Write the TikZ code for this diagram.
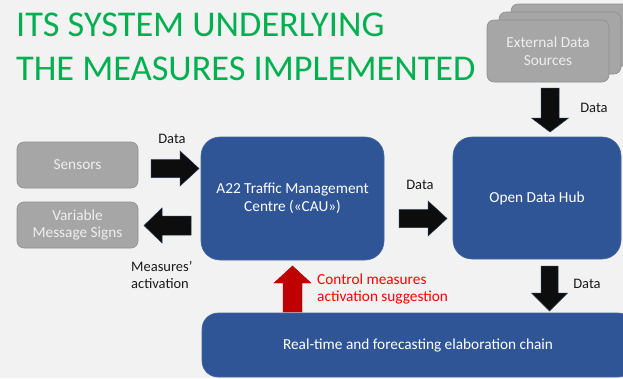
\documentclass[tikz,border=0pt]{standalone}
\usepackage{fontspec}
\setmainfont{Carlito}
\definecolor{bgcol}{HTML}{F2F2F2}
\definecolor{titlegreen}{HTML}{00B050}
\definecolor{hubblue}{HTML}{2F5597}
\definecolor{hubedge}{HTML}{41679F}
\definecolor{boxgray}{HTML}{A6A6A6}
\definecolor{boxedge}{HTML}{8F8F8F}
\definecolor{boxtext}{HTML}{EEEEEE}
\definecolor{arrowblack}{HTML}{0D0D0D}
\definecolor{arrowedge}{HTML}{24324F}
\definecolor{arrowred}{HTML}{C00000}
\definecolor{textred}{HTML}{FF0000}
\definecolor{labelblack}{HTML}{1A1A1A}

\tikzset{
  graybox/.style={draw=boxedge, line width=0.6pt, fill=boxgray, rounded corners=7pt,
    text=boxtext, align=center, inner sep=0pt,
    font=\fontsize{15.3}{17.5}\selectfont},
  bluebox/.style={draw=hubedge, line width=0.6pt, fill=hubblue, rounded corners=19pt,
    text=white, align=center, inner sep=0pt,
    font=\fontsize{15.3}{18}\selectfont},
  lbl/.style={text=labelblack, inner sep=0pt, font=\fontsize{14.5}{17}\selectfont},
  redlbl/.style={text=textred, inner sep=0pt, align=left, font=\fontsize{15.3}{17}\selectfont},
  blockblack/.style={fill=arrowblack, draw=arrowedge, line width=0.5pt},
  blockred/.style={fill=arrowred, draw=arrowred!80!black, line width=0.4pt},
  % block arrow pointing along +x from the origin:
  % total length / head length / shaft half width / head half width
  pics/fatarrow/.style args={#1/#2/#3/#4}{code={
    \path[pic actions] (0,-#3) -- ({#1-#2},-#3) -- ({#1-#2},-#4) -- (#1,0)
      -- ({#1-#2},#4) -- ({#1-#2},#3) -- (0,#3) -- cycle;
  }}
}

\begin{document}
\begin{tikzpicture}[x=1pt,y=-1pt]
\useasboundingbox (0,0) rectangle (623,378);
\fill[bgcol] (0,0) rectangle (623,378);

% title
\node[anchor=base west, inner sep=0pt, text=titlegreen,
      font=\fontsize{36.3}{44}\selectfont] (title1) at (16,36) {ITS SYSTEM UNDERLYING};
\node[anchor=base west, inner sep=0pt, text=titlegreen,
      font=\fontsize{36.3}{44}\selectfont] (title2) at (16,80) {THE MEASURES IMPLEMENTED};

% external data sources (stacked)
\node[graybox, minimum width=122pt, minimum height=62pt] (ext3) at (572,35) {};
\node[graybox, minimum width=122pt, minimum height=62pt] (ext2) at (560,43) {};
\node[graybox, minimum width=122pt, minimum height=62pt] (ext) at (548,51) {External Data\\Sources};

% field devices
\node[graybox, minimum width=121pt, minimum height=46pt] (sens) at (77.5,165) {Sensors};
\node[graybox, minimum width=121pt, minimum height=46pt] (vms) at (77.5,225) {Variable\\Message Signs};

% main blocks
\node[bluebox, minimum width=183pt, minimum height=123pt] (cau) at (292.5,198.5)
  {A22 Traffic Management\\Centre («CAU»)};
\node[bluebox, minimum width=168pt, minimum height=122pt] (odh) at (537,198) {Open Data Hub};
\node[bluebox, rounded corners=16pt, minimum width=432pt, minimum height=64pt] (chain) at (418,345)
  {Real-time and forecasting elaboration chain};

% block arrows
\pic[blockblack] at (151,168.5) {fatarrow={48/19/9/17.5}};
\pic[blockblack, rotate=180] at (191,225.5) {fatarrow={47/18/9.5/17.5}};
\pic[blockblack] at (399,218.5) {fatarrow={48/19/9/17.5}};
\pic[blockblack, rotate=-90] at (550,88) {fatarrow={44/14/9/18.5}};
\pic[blockblack, rotate=-90] at (549.5,266) {fatarrow={45/18/8.5/18}};
\pic[blockred, rotate=90] at (292.5,312) {fatarrow={46/17/9.5/18.5}};

% arrow labels
\node[lbl] (dsens) at (172,139) {Data};
\node[lbl] (dcau) at (420,185) {Data};
\node[lbl] (dext) at (594,108) {Data};
\node[lbl] (dodh) at (587,284) {Data};
\node[lbl, anchor=west, align=left] (act) at (131,274.5) {Measures’\\activation};
\node[redlbl, anchor=west] (sugg) at (317,288.5) {Control measures\\activation suggestion};
\end{tikzpicture}
\end{document}
